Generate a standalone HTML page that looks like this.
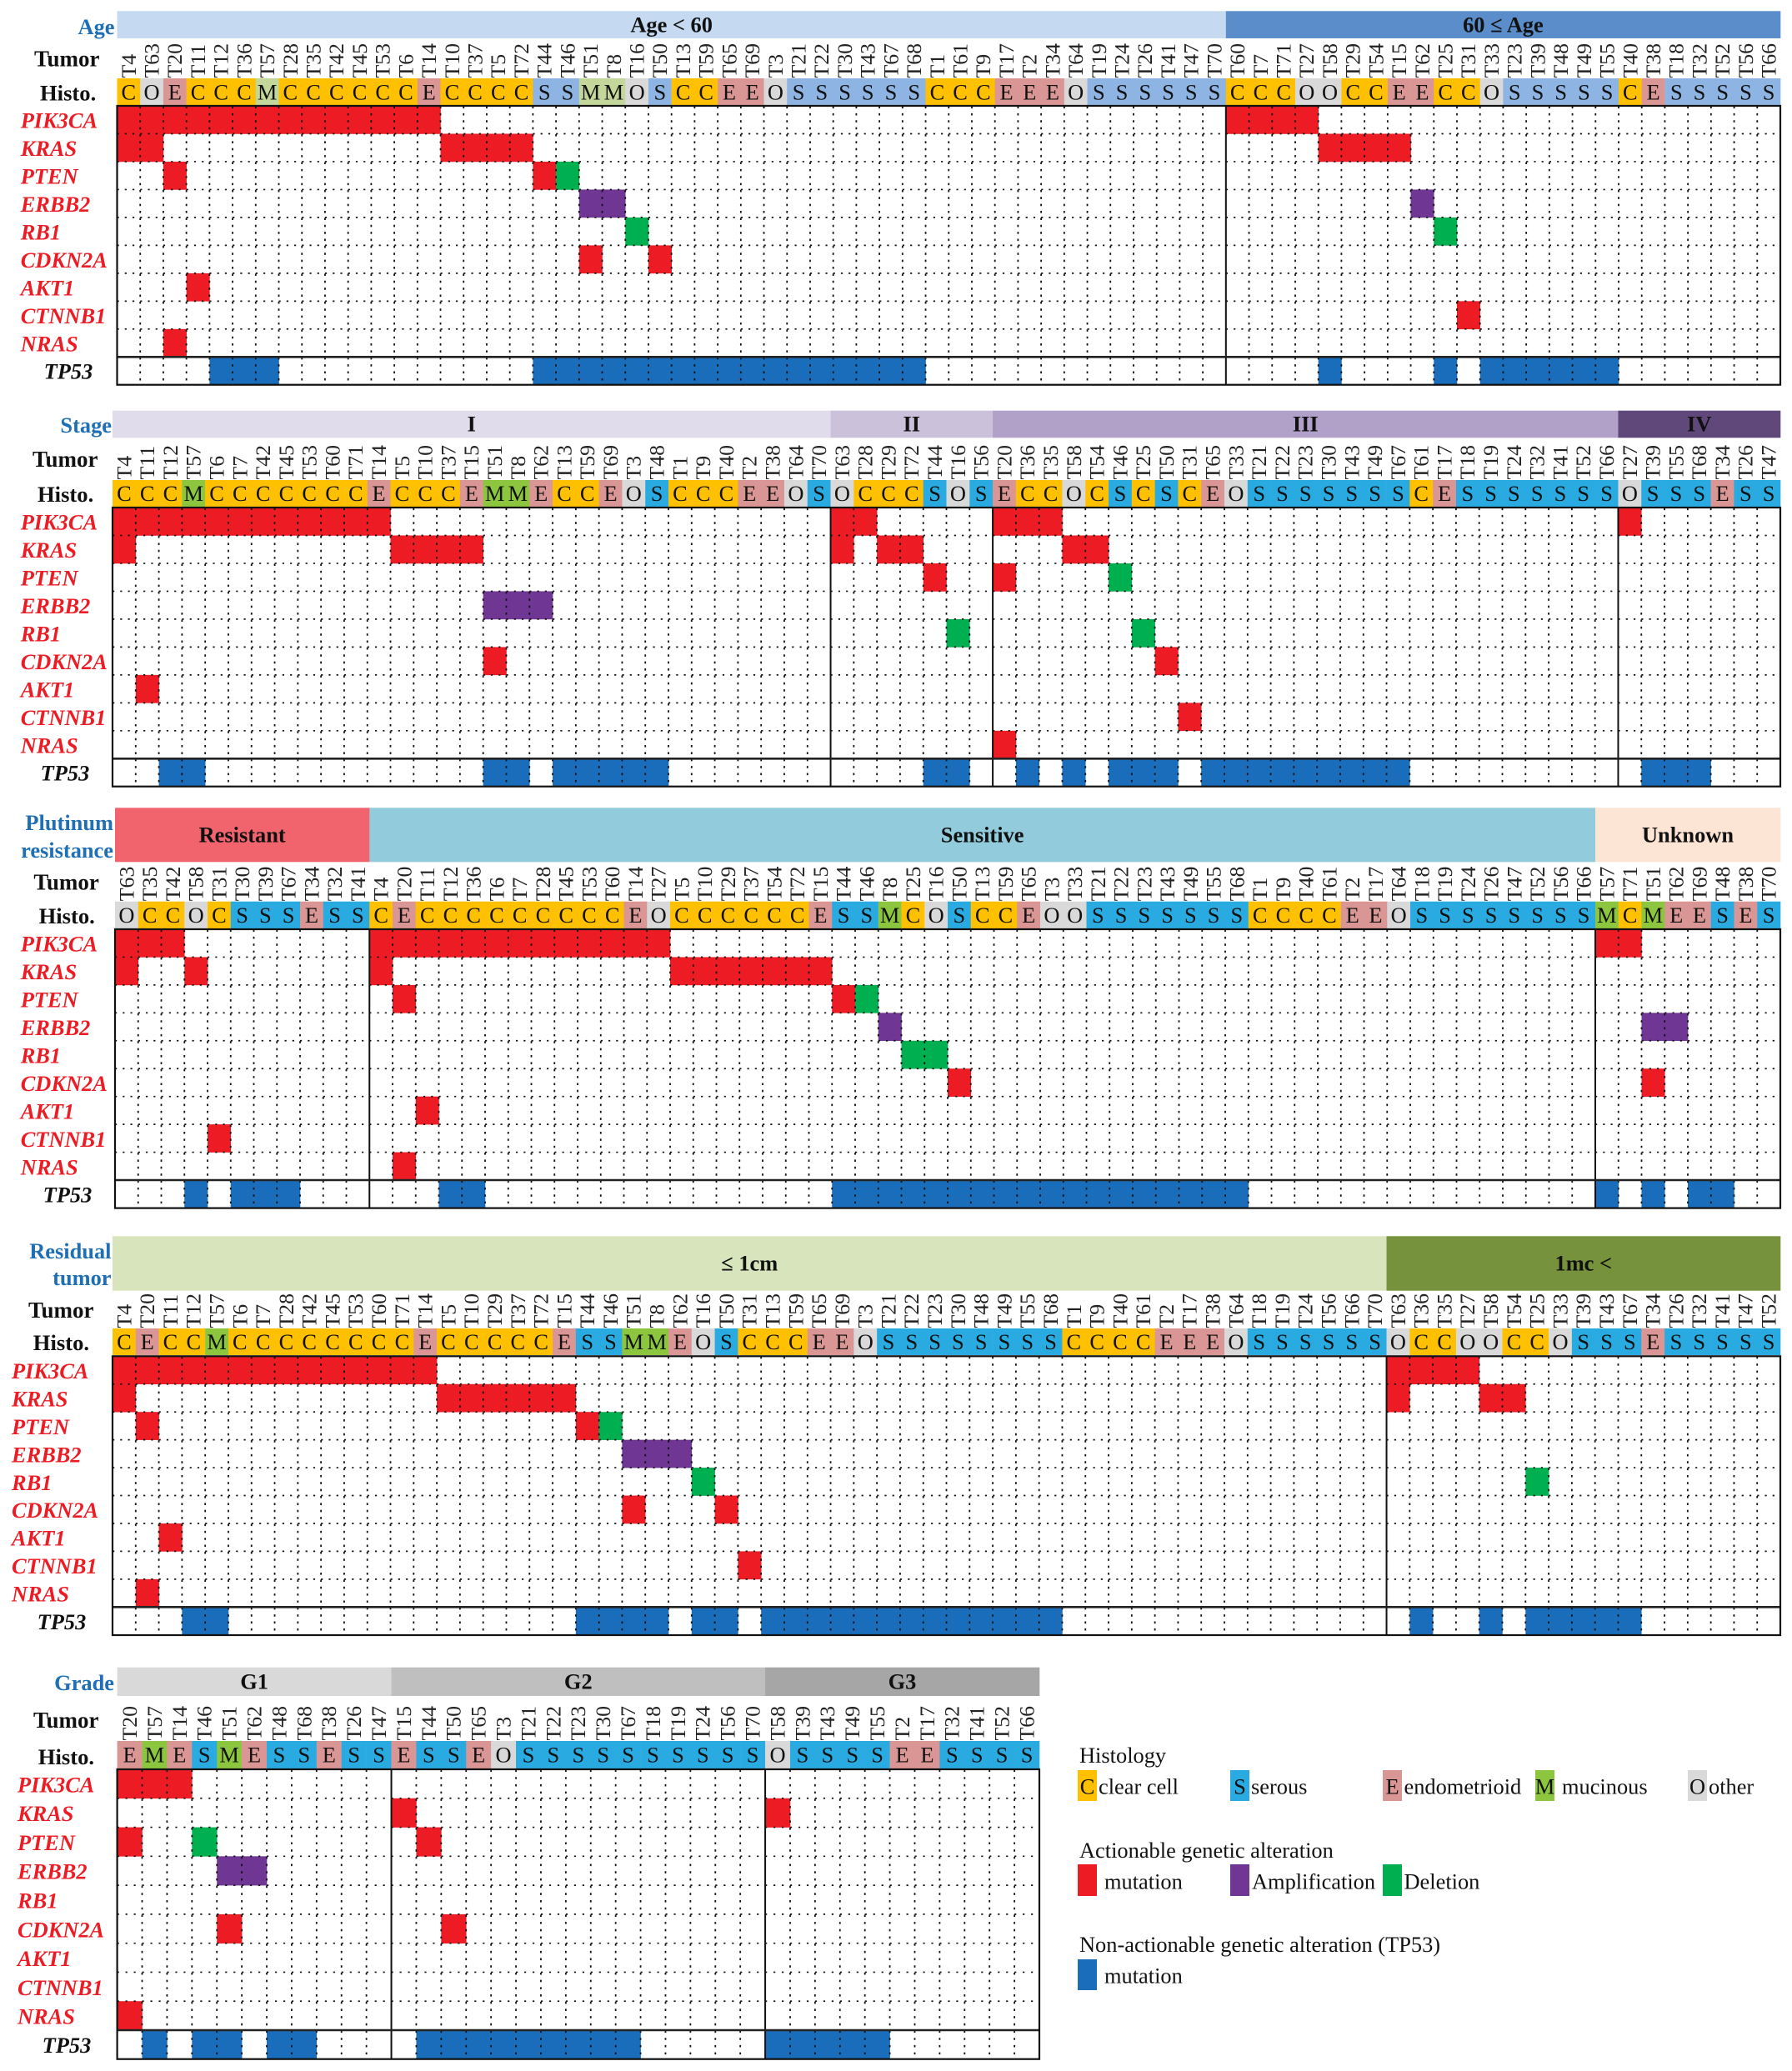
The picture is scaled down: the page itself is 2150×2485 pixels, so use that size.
<!DOCTYPE html>
<html lang="en">
<head>
<meta charset="utf-8">
<title>Actionable genetic alterations by clinical subgroup</title>
<style>
html,body{margin:0;padding:0;background:#fff;}
svg{display:block;font-family:"Liberation Serif",serif;}
</style>
</head>
<body>
<svg id="chart" xmlns="http://www.w3.org/2000/svg" width="2150" height="2485" viewBox="0 0 2150 2485">
<rect x="0" y="0" width="2150" height="2485" fill="#ffffff"/>
<g id="panels"></g>
<g font-size="26.4" fill="#111">
  <text x="1295" y="2115">Histology</text>
  <g>
    <rect x="1293" y="2124" width="23" height="37" fill="#ffc000"/>
    <text x="1304.5" y="2152.5" text-anchor="middle">C</text>
    <text x="1318" y="2152.5">clear cell</text>
  </g>
  <g>
    <rect x="1476" y="2124" width="23" height="37" fill="#29abe2"/>
    <text x="1487.5" y="2152.5" text-anchor="middle">S</text>
    <text x="1501" y="2152.5">serous</text>
  </g>
  <g>
    <rect x="1659" y="2124" width="23" height="37" fill="#da9694"/>
    <text x="1670.5" y="2152.5" text-anchor="middle">E</text>
    <text x="1684.5" y="2152.5">endometrioid</text>
  </g>
  <g>
    <rect x="1842" y="2124" width="23" height="37" fill="#8cc63f"/>
    <text x="1853.5" y="2152.5" text-anchor="middle">M</text>
    <text x="1874" y="2152.5">mucinous</text>
  </g>
  <g>
    <rect x="2025" y="2124" width="23" height="37" fill="#d9d9d9"/>
    <text x="2036.5" y="2152.5" text-anchor="middle">O</text>
    <text x="2050" y="2152.5">other</text>
  </g>
  <text x="1295" y="2229">Actionable genetic alteration</text>
  <g>
    <rect x="1293" y="2237" width="23" height="38" fill="#ed1c24"/>
    <text x="1325" y="2266.5">mutation</text>
  </g>
  <g>
    <rect x="1476" y="2237" width="23" height="38" fill="#6f3694"/>
    <text x="1502" y="2266.5">Amplification</text>
  </g>
  <g>
    <rect x="1659" y="2237" width="23" height="38" fill="#00b050"/>
    <text x="1684.5" y="2266.5">Deletion</text>
  </g>
  <text x="1295" y="2342">Non-actionable genetic alteration (TP53)</text>
  <g>
    <rect x="1293" y="2351" width="23" height="37" fill="#1a6dbb"/>
    <text x="1325" y="2379.5">mutation</text>
  </g>
</g>
</svg>
<script>
// ---------- DATA ----------
const genes = ['PIK3CA','KRAS','PTEN','ERBB2','RB1','CDKN2A','AKT1','CTNNB1','NRAS'];

const pik3caMutated = ['T4','T63','T20','T11','T12','T36','T57','T28','T35','T42','T45','T53','T6','T14','T60','T7','T71','T27'];
const krasMutated = ['T4','T63','T10','T37','T5','T72','T58','T29','T54','T15'];
const ptenMutated = ['T20','T44'];
const ptenDeleted = ['T46'];
const erbb2Amplified = ['T51','T8','T62'];
const rb1Deleted = ['T16','T25'];
const cdkn2aMutated = ['T51','T50'];
const akt1Mutated = ['T11'];
const ctnnb1Mutated = ['T31'];
const nrasMutated = ['T20'];
const tp53Mutated = ['T12','T36','T57','T44','T46','T51','T8','T16','T50','T13','T59','T65','T69','T3','T21','T22','T30','T43','T67','T68','T58','T25','T33','T23','T39','T48','T49','T55'];

const clearCellTumors = ['T4','T11','T12','T36','T28','T35','T42','T45','T53','T6','T10','T37','T5','T72','T13','T59','T1','T61','T9','T60','T7','T71','T29','T54','T25','T31','T40'];
const otherTumors = ['T63','T16','T3','T64','T27','T58','T33'];
const endometrioidTumors = ['T20','T14','T65','T69','T17','T2','T34','T15','T62','T38'];
const mucinousTumors = ['T57','T51','T8'];
const serousTumors = ['T44','T46','T50','T21','T22','T30','T43','T67','T68','T19','T24','T26','T41','T47','T70','T23','T39','T48','T49','T55','T18','T32','T52','T56','T66'];

const ageUnder60 = ['T4','T63','T20','T11','T12','T36','T57','T28','T35','T42','T45','T53','T6','T14','T10','T37','T5','T72','T44','T46','T51','T8','T16','T50','T13','T59','T65','T69','T3','T21','T22','T30','T43','T67','T68','T1','T61','T9','T17','T2','T34','T64','T19','T24','T26','T41','T47','T70'];
const age60Plus = ['T60','T7','T71','T27','T58','T29','T54','T15','T62','T25','T31','T33','T23','T39','T48','T49','T55','T40','T38','T18','T32','T52','T56','T66'];

const stageOne = ['T4','T11','T12','T57','T6','T7','T42','T45','T53','T60','T71','T14','T5','T10','T37','T15','T51','T8','T62','T13','T59','T69','T3','T48','T1','T9','T40','T2','T38','T64','T70'];
const stageTwo = ['T63','T28','T29','T72','T44','T16','T56'];
const stageThree = ['T20','T36','T35','T58','T54','T46','T25','T50','T31','T65','T33','T21','T22','T23','T30','T43','T49','T67','T61','T17','T18','T19','T24','T32','T41','T52','T66'];
const stageFour = ['T27','T39','T55','T68','T34','T26','T47'];

const platinumResistant = ['T63','T35','T42','T58','T31','T30','T39','T67','T34','T32','T41'];
const platinumSensitive = ['T4','T20','T11','T12','T36','T6','T7','T28','T45','T53','T60','T14','T27','T5','T10','T29','T37','T54','T72','T15','T44','T46','T8','T25','T16','T50','T13','T59','T65','T3','T33','T21','T22','T23','T43','T49','T55','T68','T1','T9','T40','T61','T2','T17','T64','T18','T19','T24','T26','T47','T52','T56','T66'];
const platinumUnknown = ['T57','T71','T51','T62','T69','T48','T38','T70'];

const residualSmall = ['T4','T20','T11','T12','T57','T6','T7','T28','T42','T45','T53','T60','T71','T14','T5','T10','T29','T37','T72','T15','T44','T46','T51','T8','T62','T16','T50','T31','T13','T59','T65','T69','T3','T21','T22','T23','T30','T48','T49','T55','T68','T1','T9','T40','T61','T2','T17','T38','T64','T18','T19','T24','T56','T66','T70'];
const residualLarge = ['T63','T36','T35','T27','T58','T54','T25','T33','T39','T43','T67','T34','T26','T32','T41','T47','T52'];

const gradeOne = ['T20','T57','T14','T46','T51','T62','T48','T68','T38','T26','T47'];
const gradeTwo = ['T15','T44','T50','T65','T3','T21','T22','T23','T30','T67','T18','T19','T24','T56','T70'];
const gradeThree = ['T58','T39','T43','T49','T55','T2','T17','T32','T41','T52','T66'];

// gene row index, alteration kind, altered tumors
const alterationSeries = [
  [0,'mutation',pik3caMutated],[1,'mutation',krasMutated],[2,'mutation',ptenMutated],[2,'deletion',ptenDeleted],
  [3,'amplification',erbb2Amplified],[4,'deletion',rb1Deleted],[5,'mutation',cdkn2aMutated],[6,'mutation',akt1Mutated],
  [7,'mutation',ctnnb1Mutated],[8,'mutation',nrasMutated]
];
const histologySeries = [['C',clearCellTumors],['O',otherTumors],['E',endometrioidTumors],['M',mucinousTumors],['S',serousTumors]];

// ---------- STYLE + LAYOUT ----------
const alterationFill = {mutation:'#ed1c24',amplification:'#6f3694',deletion:'#00b050'};
const tp53Fill = '#1a6dbb';
const histoFillStrong = {C:'#ffc000',O:'#d9d9d9',E:'#da9694',M:'#8cc63f',S:'#29abe2'};
const histoFillLight = {C:'#ffc000',O:'#d9d9d9',E:'#da9694',M:'#c4d79b',S:'#8db4e2'};
const titleBlue = '#1f6fb6';

const panels = [
 {name:'age',title:['Age'],titleX:137.5,titleY:[41],
  groups:[{label:'Age < 60',tumors:ageUnder60,fill:'#c5d9f0'},{label:'60 ≤ Age',tumors:age60Plus,fill:'#5a8dca'}],
  x0:140.5,x1:2136,bandTop:13.3,bandBottom:46,histoTop:94,histoBottom:126.5,gridTop:127,nrasBottom:428.3,tp53Bottom:461.7,
  geneX:24.7,tp53X:82,tumorX:41,histoX:48,tumorDy:0,histoDy:1.5,palette:histoFillLight},
 {name:'stage',title:['Stage'],titleX:134,titleY:[519],
  groups:[{label:'I',tumors:stageOne,fill:'#e1dcec'},{label:'II',tumors:stageTwo,fill:'#ccc1da'},{label:'III',tumors:stageThree,fill:'#b1a0c7'},{label:'IV',tumors:stageFour,fill:'#60497a'}],
  x0:135,x1:2136,bandTop:492.7,bandBottom:525.3,histoTop:576,histoBottom:608,gridTop:609,nrasBottom:910.3,tp53Bottom:943.7,
  geneX:24.7,tp53X:78,tumorX:39,histoX:45,tumorDy:-1.5,histoDy:1.5,palette:histoFillStrong},
 {name:'platinum',title:['Plutinum','resistance'],titleX:136,titleY:[996,1029],
  groups:[{label:'Resistant',tumors:platinumResistant,fill:'#f1636d'},{label:'Sensitive',tumors:platinumSensitive,fill:'#92cbdb'},{label:'Unknown',tumors:platinumUnknown,fill:'#fde5d6'}],
  x0:138,x1:2136,bandTop:969.3,bandBottom:1034.3,histoTop:1081.7,histoBottom:1114,gridTop:1115,nrasBottom:1416,tp53Bottom:1449.6,
  geneX:24.7,tp53X:81,tumorX:40.4,histoX:46.6,tumorDy:0,histoDy:1.5,palette:histoFillStrong},
 {name:'residual-tumor',title:['Residual','tumor'],titleX:133.5,titleY:[1510,1542],
  groups:[{label:'≤ 1cm',tumors:residualSmall,fill:'#d8e4bc'},{label:'1mc <',tumors:residualLarge,fill:'#76923c'}],
  x0:135,x1:2136,bandTop:1483.3,bandBottom:1548.7,histoTop:1594,histoBottom:1626,gridTop:1627.3,nrasBottom:1928.3,tp53Bottom:1962,
  geneX:14,tp53X:74,tumorX:34,histoX:39.8,tumorDy:1.5,histoDy:1.5,palette:histoFillStrong},
 {name:'grade',title:['Grade'],titleX:137,titleY:[2028],
  groups:[{label:'G1',tumors:gradeOne,fill:'#d9d9d9'},{label:'G2',tumors:gradeTwo,fill:'#bfbfbf'},{label:'G3',tumors:gradeThree,fill:'#a6a6a6'}],
  x0:140.6,x1:1247,bandTop:2000.7,bandBottom:2035,histoTop:2089,histoBottom:2122,gridTop:2123,nrasBottom:2436,tp53Bottom:2470.7,
  geneX:21,tp53X:80,tumorX:40,histoX:45.8,tumorDy:-1.5,histoDy:3,palette:histoFillStrong}
];

// ---------- DRAWING ----------
const NS = 'http://www.w3.org/2000/svg';
const root = document.getElementById('panels');
function make(tag, attrs, parent, text){
  const el = document.createElementNS(NS, tag);
  for (const k in attrs) el.setAttribute(k, attrs[k]);
  if (text !== undefined) el.textContent = text;
  parent.appendChild(el);
  return el;
}
function histologyOf(tumor){
  for (const [code, list] of histologySeries) if (list.includes(tumor)) return code;
  return 'O';
}
function drawPanel(p){
  const tumors = p.groups.reduce((a,g)=>a.concat(g.tumors),[]);
  const cw = (p.x1-p.x0)/tumors.length;
  const rowH = (p.nrasBottom-p.gridTop)/genes.length;
  const xOf = i => p.x0+i*cw;
  const yOf = r => p.gridTop+r*rowH;
  const colOf = t => tumors.indexOf(t);

  const g = make('g',{},root);
  
  

  // title
  p.title.forEach((line,i)=>{
    const t = make('text',{x:p.titleX,y:p.titleY[i],'text-anchor':'end','font-size':26.4,'font-weight':'bold',fill:titleBlue},g,line);
    
    
  });

  // subgroup bands
  let start = 0;
  const boundaries = [];
  p.groups.forEach(gr=>{
    const bx = xOf(start), bw = gr.tumors.length*cw;
    const band = make('rect',{x:bx,y:p.bandTop,width:bw+0.3,height:p.bandBottom-p.bandTop,fill:gr.fill},g);
    
    
    const lab = make('text',{x:bx+bw/2,y:(p.bandTop+p.bandBottom)/2+8.6,'text-anchor':'middle','font-size':26.4,'font-weight':'bold',fill:'#111'},g,gr.label);
    
    
    start += gr.tumors.length;
    boundaries.push(start);
  });

  // row headers
  const tumorHead = make('text',{x:p.tumorX,y:p.histoTop-23+8.6+p.tumorDy,'font-size':27,'font-weight':'bold',fill:'#111'},g,'Tumor');
  
  
  const histoHead = make('text',{x:p.histoX,y:(p.histoTop+p.histoBottom)/2+8.6+p.histoDy,'font-size':26.6,'font-weight':'bold',fill:'#111'},g,'Histo.');
  
  

  // tumor ids + histology
  tumors.forEach((tumor,i)=>{
    const cx = xOf(i)+cw/2;
    const label = make('text',{transform:'translate('+(cx+8.4)+','+(p.histoTop-0.5)+') rotate(-90)','font-size':25.8,fill:'#222'},g,tumor);
    
    
    const code = histologyOf(tumor);
    const cell = make('rect',{x:xOf(i),y:p.histoTop,width:cw+0.3,height:p.histoBottom-p.histoTop,fill:p.palette[code]},g);
    
    
    const letter = make('text',{x:cx,y:(p.histoTop+p.histoBottom)/2+9,'text-anchor':'middle','font-size':26.4,fill:'#111'},g,code);
    
    
  });

  // gene labels
  genes.forEach((gene,r)=>{
    const t = make('text',{x:p.geneX,y:yOf(r)+rowH/2+10,'font-size':26.4,'font-weight':'bold','font-style':'italic',fill:'#ed1c24'},g,gene);
    
    
  });
  const tp53Label = make('text',{x:p.tp53X,y:(p.nrasBottom+p.tp53Bottom)/2+9.6,'text-anchor':'middle','font-size':26.4,'font-weight':'bold','font-style':'italic',fill:'#111'},g,'TP53');
  
  

  // alteration cells
  alterationSeries.forEach(([row,kind,list])=>{
    list.forEach(tumor=>{
      const c = colOf(tumor);
      if (c < 0) return;
      const r = make('rect',{x:xOf(c),y:yOf(row),width:cw+0.3,height:rowH+0.3,fill:alterationFill[kind]},g);
      
      
    });
  });
  tp53Mutated.forEach(tumor=>{
    const c = colOf(tumor);
    if (c < 0) return;
    const r = make('rect',{x:xOf(c),y:p.nrasBottom,width:cw+0.3,height:p.tp53Bottom-p.nrasBottom,fill:tp53Fill},g);
    
    
  });

  // dotted grid
  const period = rowH/4;
  for (let i=1;i<tumors.length;i++){
    if (boundaries.includes(i)) continue;
    const v = make('line',{x1:xOf(i),x2:xOf(i),y1:p.gridTop,y2:p.tp53Bottom,stroke:'#111','stroke-width':1.8,'stroke-dasharray':'2.6 '+(period-2.6),'stroke-dashoffset':-(period+0.5)},g);
    
    
  }
  for (let r=1;r<genes.length;r++){
    const h = make('line',{x1:p.x0,x2:p.x1,y1:yOf(r),y2:yOf(r),stroke:'#111','stroke-width':1.7,'stroke-dasharray':'2.2 '+(cw/3-2.2)},g);
    
    
  }

  // solid frame + separators
  boundaries.slice(0,-1).forEach(b=>{
    const s = make('line',{x1:xOf(b),x2:xOf(b),y1:p.gridTop,y2:p.tp53Bottom,stroke:'#111','stroke-width':2},g);
    
    
  });
  const sep = make('line',{x1:p.x0,x2:p.x1,y1:p.nrasBottom,y2:p.nrasBottom,stroke:'#222','stroke-width':2.6},g);
  
  
  const frame = make('rect',{x:p.x0,y:p.gridTop,width:p.x1-p.x0,height:p.tp53Bottom-p.gridTop,fill:'none',stroke:'#111','stroke-width':2.2},g);
  
  
}
panels.forEach(drawPanel);
</script>
</body>
</html>
